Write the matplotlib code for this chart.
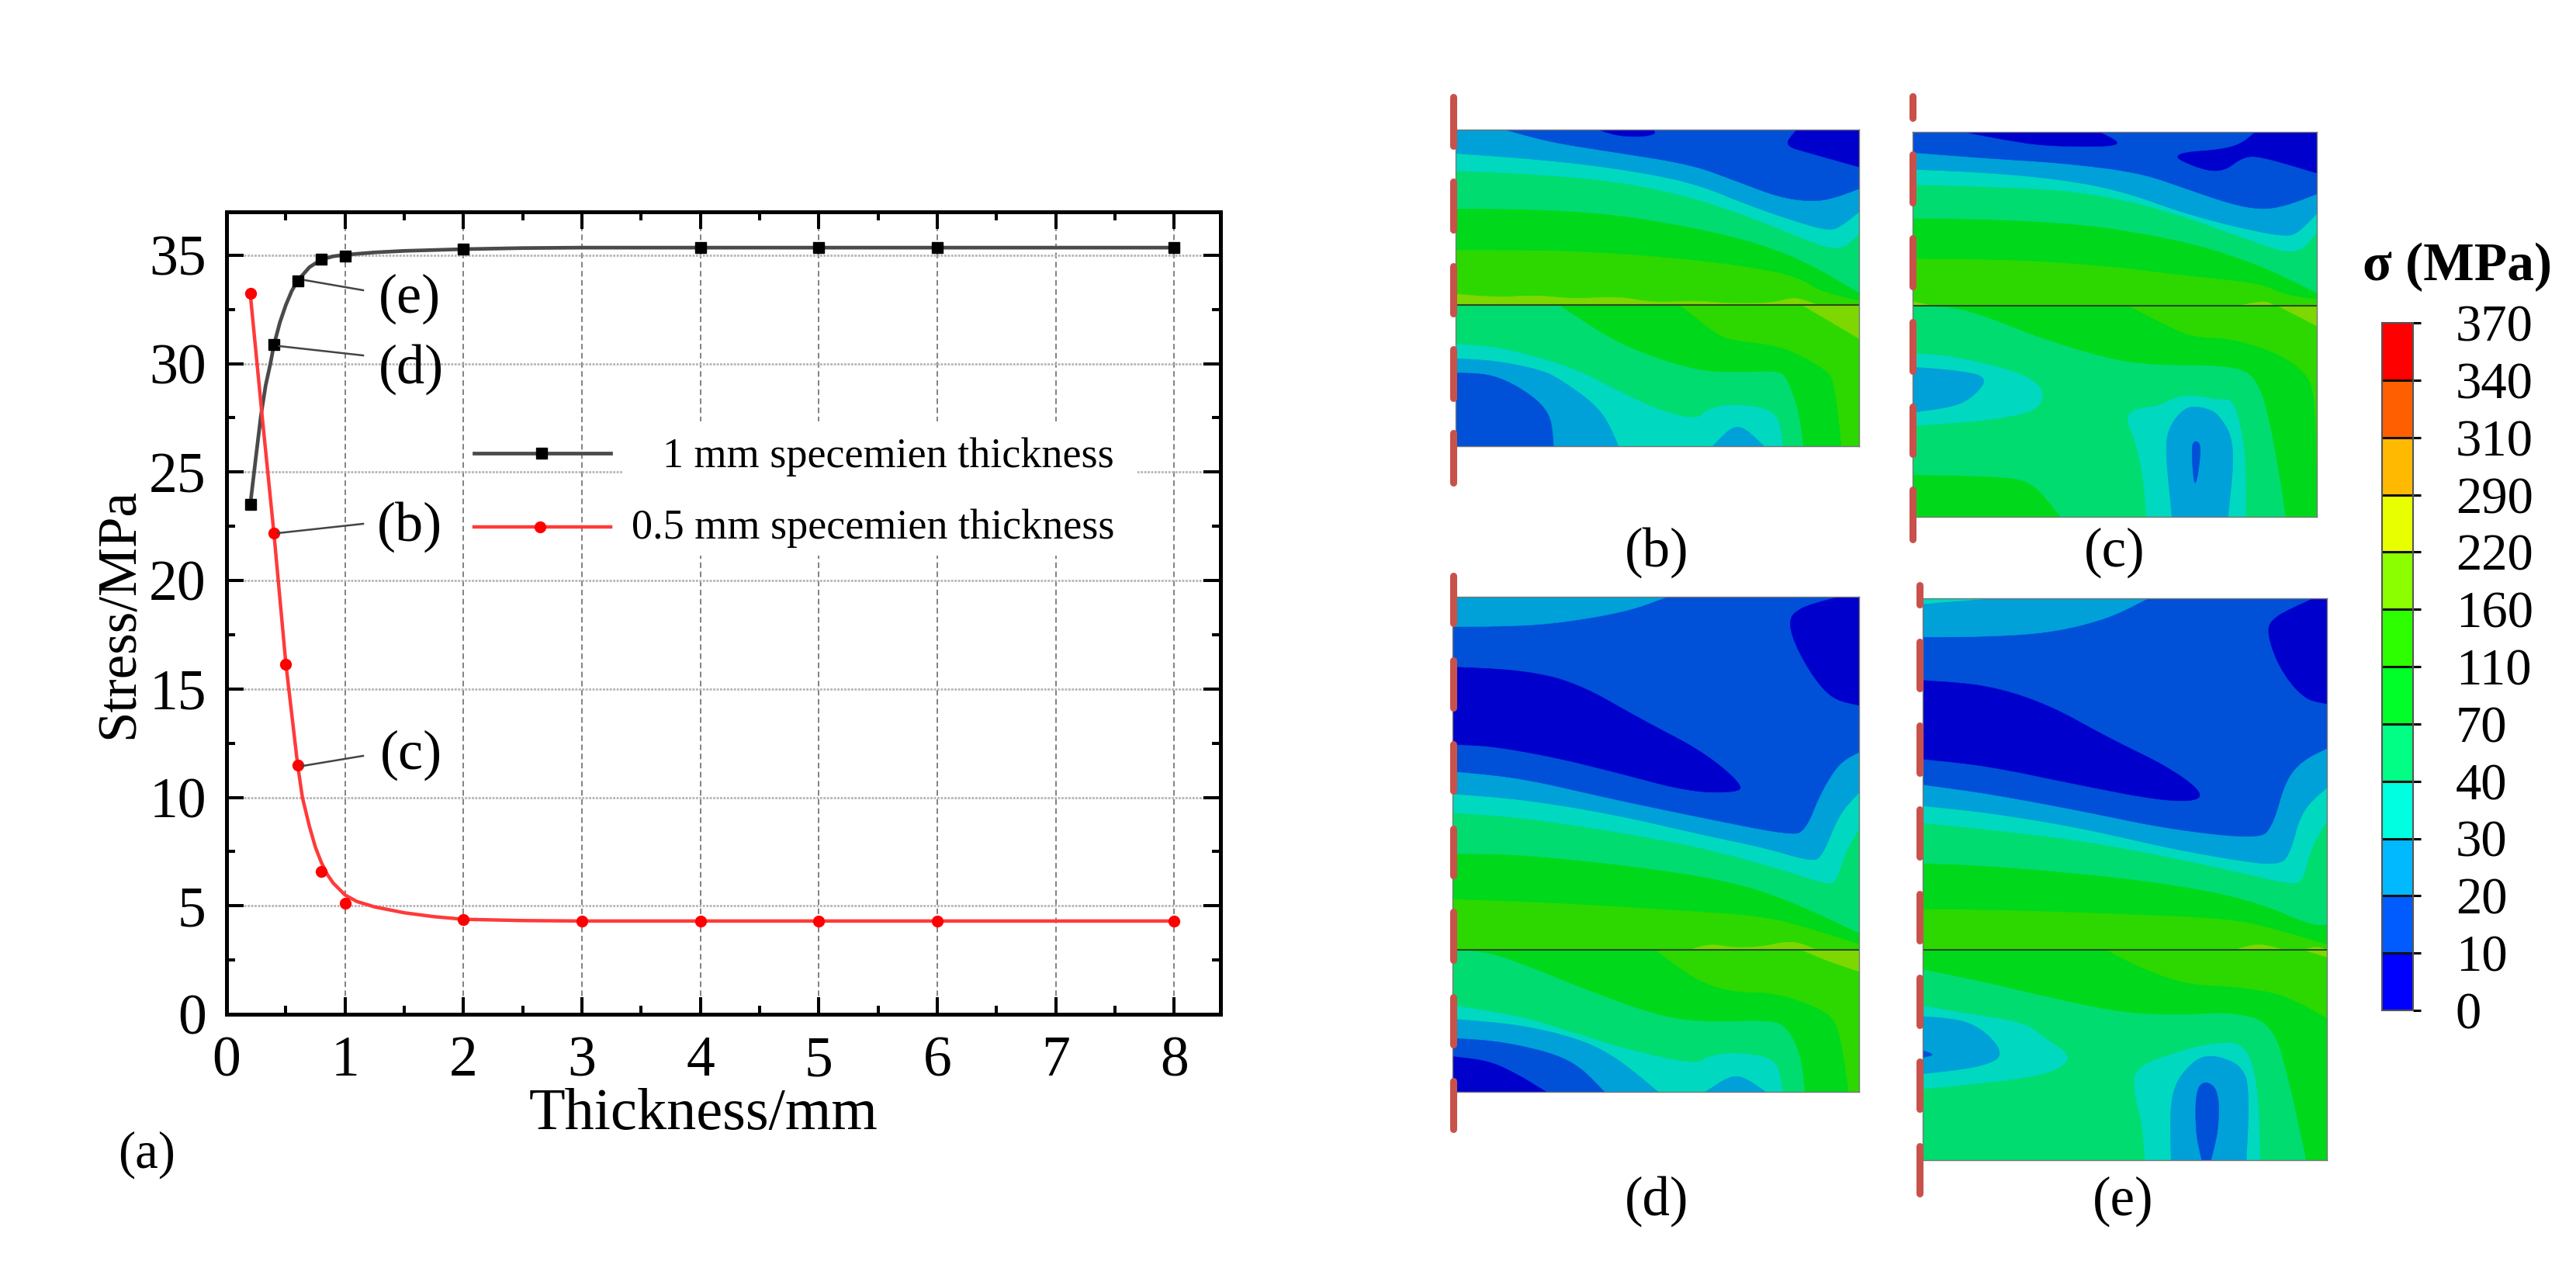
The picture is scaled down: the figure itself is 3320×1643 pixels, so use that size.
import matplotlib
matplotlib.use('Agg')
import matplotlib.pyplot as plt
from matplotlib.colors import ListedColormap, BoundaryNorm
from matplotlib.cm import ScalarMappable
from matplotlib.patches import Polygon, Rectangle
from matplotlib.ticker import MultipleLocator

plt.rcParams['font.family'] = ['Liberation Serif', 'DejaVu Serif']

# --- stress vs thickness ---
thick_1mm = [0.2, 0.4, 0.6, 0.8, 1, 2, 4, 5, 6, 8]
stress_1mm = [23.5, 30.87, 33.83, 34.8, 34.95, 35.27, 35.35, 35.35, 35.35, 35.35]
thick_05mm = [0.2, 0.4, 0.5, 0.6, 0.8, 1, 2, 3, 4, 5, 6, 8]
stress_05mm = [33.23, 22.17, 16.15, 11.5, 6.57, 5.1, 4.36, 4.3, 4.3, 4.3, 4.3, 4.3]
# fitted curves as they run through the picture
fit_x_1mm = [0.2, 0.25, 0.29, 0.33, 0.37, 0.4, 0.45, 0.5, 0.55, 0.6, 0.7, 0.8, 0.9, 1, 1.25, 1.5, 2, 2.5, 3, 4, 8]
fit_y_1mm = [23.5, 25.8, 27.6, 29.0, 30.0, 30.87, 31.9, 32.7, 33.35, 33.83, 34.45, 34.8, 34.95, 35.02, 35.13, 35.2, 35.28, 35.33, 35.35, 35.35, 35.35]
fit_x_05mm = [0.2, 0.3, 0.4, 0.5, 0.6, 0.64, 0.7, 0.75, 0.8, 0.85, 0.9, 1, 1.1, 1.25, 1.5, 1.75, 2, 2.5, 3, 4, 8]
fit_y_05mm = [33.23, 27.6, 22.17, 16.2, 11.5, 10.0, 8.65, 7.7, 7.0, 6.45, 6.05, 5.5, 5.2, 4.95, 4.68, 4.5, 4.38, 4.32, 4.3, 4.3, 4.3]

# --- contour bands, colours from low stress to high ---
band_colors = ['#0000cc', '#0050d8', '#00a0d8', '#00d8c0', '#00dc70', '#00d81c', '#2cd800', '#7cd800']

# each panel: rect (x0, x1, y0, y1), mid line y, then polygons painted in order (colour index, outline)
rect_b = (90, 1408, 165, 1165)
mid_b = 718
bands_b = [
    (6, [(90, 165), (1408, 165), (1408, 718), (90, 718)]),
    (7, [(90, 685), (230, 695), (350, 688), (480, 700), (620, 692), (740, 712), (860, 705), (1000, 715), (1130, 712), (1200, 693), (1270, 718), (90, 718)]),
    (5, [(90, 545), (400, 545), (700, 560), (1000, 590), (1200, 625), (1280, 675), (1408, 705), (1408, 165), (90, 165)]),
    (4, [(90, 415), (300, 415), (600, 430), (900, 480), (1100, 530), (1250, 590), (1408, 680), (1408, 165), (90, 165)]),
    (3, [(90, 295), (300, 303), (600, 325), (850, 375), (1050, 440), (1200, 500), (1345, 552), (1408, 495), (1408, 165), (90, 165)]),
    (2, [(90, 240), (350, 258), (600, 285), (860, 330), (1050, 405), (1200, 455), (1310, 485), (1350, 470), (1408, 425), (1408, 165), (90, 165)]),
    (1, [(250, 165), (400, 205), (600, 235), (860, 275), (1000, 325), (1150, 380), (1260, 393), (1330, 380), (1408, 352), (1408, 165)]),
    (0, [(1205, 165), (1160, 215), (1250, 240), (1408, 283), (1408, 165)]),
    (0, [(555, 165), (620, 185), (700, 188), (745, 178), (735, 165)]),
    (6, [(90, 718), (1408, 718), (1408, 1165), (90, 1165)]),
    (7, [(1220, 718), (1408, 825), (1408, 718)]),
    (5, [(90, 718), (820, 718), (900, 780), (970, 830), (1130, 845), (1220, 880), (1290, 920), (1325, 950), (1350, 1165), (90, 1165)]),
    (4, [(90, 718), (425, 718), (600, 830), (750, 890), (900, 930), (1030, 932), (1140, 928), (1170, 945), (1210, 1050), (1225, 1165), (90, 1165)]),
    (3, [(90, 843), (220, 850), (400, 895), (500, 930), (620, 990), (750, 1050), (875, 1082), (910, 1050), (990, 1030), (1145, 1052), (1158, 1165), (90, 1165)]),
    (2, [(90, 888), (220, 895), (350, 920), (420, 945), (570, 1050), (622, 1165), (90, 1165)]),
    (2, [(930, 1165), (1010, 1085), (1098, 1165)]),
    (1, [(90, 933), (230, 938), (400, 1045), (410, 1165), (90, 1165)]),
]

rect_c = (62, 1380, 172, 1388)
mid_c = 720
bands_c = [
    (6, [(62, 172), (1380, 172), (1380, 720), (62, 720)]),
    (7, [(62, 708), (120, 720), (62, 720)]),
    (7, [(1130, 720), (1210, 705), (1240, 720)]),
    (5, [(62, 572), (400, 575), (700, 595), (950, 625), (1200, 650), (1270, 685), (1380, 700), (1380, 172), (62, 172)]),
    (4, [(62, 445), (300, 447), (600, 462), (800, 490), (1000, 530), (1200, 595), (1380, 680), (1380, 172), (62, 172)]),
    (3, [(62, 338), (300, 345), (550, 355), (750, 385), (950, 440), (1150, 510), (1315, 565), (1380, 490), (1380, 172), (62, 172)]),
    (2, [(62, 290), (300, 300), (550, 322), (750, 360), (950, 430), (1150, 480), (1280, 503), (1320, 490), (1380, 430), (1380, 172), (62, 172)]),
    (1, [(62, 237), (300, 255), (550, 270), (800, 300), (950, 350), (1100, 400), (1200, 418), (1280, 405), (1380, 368), (1380, 172), (62, 172)]),
    (0, [(230, 172), (350, 195), (500, 218), (765, 218), (670, 172)]),
    (0, [(1180, 172), (1115, 225), (890, 240), (1000, 290), (1075, 298), (1140, 250), (1200, 250), (1380, 302), (1380, 172)]),
    (6, [(62, 720), (1380, 720), (1380, 1388), (62, 1388)]),
    (7, [(1250, 720), (1380, 785), (1380, 720)]),
    (5, [(62, 720), (760, 720), (900, 790), (980, 822), (1100, 825), (1250, 870), (1340, 930), (1375, 1000), (1380, 1388), (62, 1388)]),
    (4, [(62, 720), (200, 725), (340, 770), (480, 825), (720, 895), (870, 910), (1100, 910), (1190, 950), (1240, 1150), (1278, 1388), (545, 1388), (455, 1278), (350, 1260), (62, 1255)]),
    (3, [(62, 872), (200, 880), (480, 950), (490, 1050), (300, 1085), (62, 1100)]),
    (3, [(755, 1075), (790, 1045), (860, 1040), (920, 1010), (980, 1003), (1060, 1020), (1110, 1015), (1148, 1180), (1148, 1388), (825, 1388), (815, 1270), (790, 1150)]),
    (2, [(62, 915), (200, 925), (310, 945), (265, 1005), (200, 1040), (62, 1058)]),
    (2, [(885, 1170), (900, 1100), (950, 1042), (1000, 1040), (1060, 1060), (1115, 1160), (1090, 1388), (908, 1388)]),
    (1, [(985, 1145), (970, 1165), (982, 1318), (1005, 1165)]),
]

rect_d = (80, 1405, 90, 1253)
mid_d = 920
bands_d = [
    (6, [(80, 90), (1405, 90), (1405, 920), (80, 920)]),
    (7, [(850, 920), (920, 905), (1000, 915), (1090, 912), (1190, 897), (1270, 920)]),
    (5, [(80, 800), (400, 808), (800, 825), (1100, 840), (1250, 870), (1405, 905), (1405, 90), (80, 90)]),
    (4, [(80, 693), (300, 695), (700, 725), (1000, 760), (1200, 810), (1405, 880), (1405, 90), (80, 90)]),
    (3, [(80, 597), (300, 608), (600, 640), (900, 680), (1150, 730), (1300, 765), (1330, 760), (1360, 690), (1405, 635), (1405, 90), (80, 90)]),
    (2, [(80, 553), (300, 565), (600, 600), (900, 650), (1100, 680), (1250, 712), (1285, 700), (1340, 600), (1405, 550), (1405, 90), (80, 90)]),
    (1, [(80, 500), (300, 515), (600, 565), (900, 610), (1180, 650), (1230, 640), (1280, 550), (1340, 480), (1405, 455), (1405, 90), (80, 90)]),
    (0, [(80, 255), (300, 262), (480, 290), (700, 380), (900, 455), (1030, 535), (1000, 550), (850, 548), (600, 500), (400, 465), (200, 440), (80, 437)]),
    (2, [(80, 90), (780, 90), (650, 125), (400, 155), (200, 160), (80, 160)]),
    (0, [(1340, 90), (1210, 115), (1170, 150), (1220, 240), (1310, 330), (1405, 345), (1405, 90)]),
    (6, [(80, 920), (1405, 920), (1405, 1253), (80, 1253)]),
    (7, [(1220, 920), (1405, 920), (1405, 970), (1300, 945)]),
    (5, [(80, 920), (740, 920), (880, 995), (1000, 1020), (1130, 1020), (1290, 1060), (1340, 1100), (1370, 1253), (80, 1253)]),
    (4, [(80, 920), (200, 925), (350, 965), (520, 1015), (750, 1075), (900, 1090), (1100, 1085), (1165, 1095), (1215, 1165), (1228, 1253), (80, 1253)]),
    (3, [(80, 1050), (300, 1075), (480, 1115), (630, 1150), (870, 1190), (910, 1170), (1000, 1160), (1140, 1175), (1155, 1253), (80, 1253)]),
    (2, [(80, 1082), (300, 1095), (500, 1130), (620, 1175), (750, 1253), (80, 1253)]),
    (2, [(905, 1253), (1005, 1205), (1100, 1253)]),
    (1, [(80, 1127), (250, 1135), (470, 1175), (575, 1253), (80, 1253)]),
    (0, [(80, 1170), (200, 1180), (300, 1215), (385, 1253), (80, 1253)]),
]

rect_e = (95, 1413, 92, 1413)
mid_e = 918
bands_e = [
    (6, [(95, 92), (1413, 92), (1413, 918), (95, 918)]),
    (7, [(1115, 918), (1190, 903), (1270, 918)]),
    (7, [(1340, 918), (1380, 910), (1413, 918)]),
    (5, [(95, 822), (400, 825), (800, 835), (1100, 845), (1250, 870), (1413, 905), (1413, 92), (95, 92)]),
    (4, [(95, 715), (300, 720), (700, 745), (1000, 775), (1200, 810), (1360, 860), (1413, 860), (1413, 92), (95, 92)]),
    (3, [(95, 620), (300, 635), (600, 660), (900, 700), (1150, 740), (1300, 765), (1335, 755), (1360, 680), (1413, 615), (1413, 92), (95, 92)]),
    (2, [(95, 580), (300, 595), (600, 630), (900, 680), (1150, 712), (1250, 718), (1290, 700), (1330, 590), (1413, 537), (1413, 92), (95, 92)]),
    (1, [(95, 530), (300, 550), (600, 590), (900, 635), (1190, 658), (1235, 630), (1280, 515), (1340, 470), (1413, 445), (1413, 92), (95, 92)]),
    (0, [(95, 285), (300, 295), (500, 340), (700, 420), (900, 490), (1010, 550), (980, 570), (850, 565), (600, 530), (300, 485), (95, 470)]),
    (2, [(95, 92), (830, 92), (700, 140), (500, 175), (250, 183), (95, 183)]),
    (3, [(95, 92), (320, 92), (95, 105)]),
    (0, [(1370, 92), (1240, 135), (1215, 170), (1260, 260), (1340, 330), (1413, 340), (1413, 92)]),
    (6, [(95, 918), (1413, 918), (1413, 1413), (95, 1413)]),
    (7, [(1340, 918), (1413, 918), (1413, 935)]),
    (5, [(95, 918), (690, 918), (800, 960), (950, 1000), (1100, 1005), (1250, 1020), (1340, 1050), (1413, 1080), (1413, 1413), (95, 1413)]),
    (4, [(95, 965), (300, 995), (500, 1030), (750, 1068), (950, 1072), (1100, 1065), (1235, 1090), (1290, 1230), (1345, 1413), (95, 1413)]),
    (3, [(95, 1050), (250, 1070), (430, 1090), (500, 1130), (580, 1168), (540, 1200), (430, 1220), (250, 1235), (95, 1245)]),
    (3, [(785, 1195), (920, 1160), (1020, 1140), (1150, 1135), (1190, 1250), (1195, 1413), (820, 1413), (810, 1320), (785, 1260)]),
    (2, [(95, 1075), (260, 1085), (370, 1165), (280, 1195), (95, 1210)]),
    (2, [(900, 1250), (980, 1175), (1050, 1165), (1145, 1195), (1160, 1270), (1150, 1413), (905, 1413)]),
    (1, [(1015, 1225), (985, 1250), (985, 1350), (1005, 1413), (1035, 1413), (1060, 1340), (1060, 1248)]),
    (1, [(95, 1155), (135, 1165), (95, 1172)]),
]

# --- colour scale ---
scale_levels = [0, 10, 20, 30, 40, 70, 110, 160, 220, 290, 310, 340, 370]
scale_colors = ['#0000ff', '#005cff', '#00b9ff', '#00ffe0', '#00ff84', '#00ff28',
                '#2eff00', '#8bff00', '#e8ff00', '#ffb900', '#ff5f00', '#ff0000']

W, H = 3320, 1643
fig = plt.figure(figsize=(W / 100, H / 100), dpi=100)


def axes_px(x0, x1, y0, y1):
    return fig.add_axes([x0 / W, 1 - y1 / H, (x1 - x0) / W, (y1 - y0) / H])


def round_outline(outline, rect, mid, passes=3):
    # corner cutting, vertices on the panel edges or mid line stay where they are
    x0, x1, y0, y1 = rect
    pts = list(outline)
    for _ in range(passes):
        new = []
        n = len(pts)
        for i, p in enumerate(pts):
            if p[0] in (x0, x1) or p[1] in (y0, y1, mid):
                new.append(p)
                continue
            a = pts[i - 1]
            b = pts[(i + 1) % n]
            new.append((p[0] + 0.25 * (a[0] - p[0]), p[1] + 0.25 * (a[1] - p[1])))
            new.append((p[0] + 0.25 * (b[0] - p[0]), p[1] + 0.25 * (b[1] - p[1])))
        pts = new
    return pts


# chart
ax = axes_px(292, 1573, 273, 1307)
ax.set_xlim(0, 8.39)
ax.set_ylim(0, 37)
ax.plot(fit_x_1mm, fit_y_1mm, color='#4a4a4a', lw=3.4, zorder=3)
ax.plot(thick_1mm, stress_1mm, ls='none', marker='s', color='black', ms=9.5, zorder=4, label='1 mm specemien thickness')
ax.plot(fit_x_05mm, fit_y_05mm, color='#ff3a3a', lw=3.2, zorder=3)
ax.plot(thick_05mm, stress_05mm, ls='none', marker='o', color='#ff0000', ms=10, zorder=4, label='0.5 mm specemien thickness')
ax.set_xticks(range(0, 9))
ax.set_yticks(range(0, 36, 5))
ax.xaxis.set_minor_locator(MultipleLocator(0.5))
ax.yaxis.set_minor_locator(MultipleLocator(2.5))
ax.tick_params(which='major', direction='in', top=True, right=True, length=16, width=2.9, labelsize=53)
ax.tick_params(which='minor', direction='in', top=True, right=True, length=8, width=2.9)
ax.tick_params(axis='x', which='major', pad=20)
ax.tick_params(axis='y', which='major', pad=19)
ax.grid(axis='x', color='#777777', lw=1.3, ls=(0, (4, 2.5)), zorder=1)
ax.grid(axis='y', color='#b5b5b5', lw=2.0, ls=(0, (1, 0.6)), zorder=1)
ax.set_axisbelow(True)
for s in ax.spines.values():
    s.set_linewidth(3.6)
ax.set_xlabel('Thickness/mm', fontsize=55, labelpad=0, x=0.48)
ax.set_ylabel('Stress/MPa', fontsize=51, labelpad=4)

# contour panels
panels = [
    (axes_px(1876, 2396, 167, 575), rect_b, mid_b, bands_b),
    (axes_px(2465, 2986, 170, 666), rect_c, mid_c, bands_c),
    (axes_px(1872, 2396, 769, 1407), rect_d, mid_d, bands_d),
    (axes_px(2478, 2999, 771, 1495), rect_e, mid_e, bands_e),
]
for pax, rect, mid, bands in panels:
    pax.set_xlim(rect[0], rect[1])
    pax.set_ylim(rect[3], rect[2])
    for idx, outline in bands:
        pts = round_outline(outline, rect, mid)
        pax.add_patch(Polygon(pts, closed=True, fc=band_colors[idx], ec=band_colors[idx], lw=0.4))
    pax.axhline(mid, color='#2a4a20', lw=1.5)
    pax.set_xticks([])
    pax.set_yticks([])
    for s in pax.spines.values():
        s.set_linewidth(1.0)
        s.set_color('#777777')

# colour scale
cax = axes_px(3070, 3110, 416, 1302)
cmap = ListedColormap(scale_colors)
norm = BoundaryNorm(scale_levels, cmap.N)
cbar = fig.colorbar(ScalarMappable(norm=norm, cmap=cmap), cax=cax, spacing='uniform', ticks=scale_levels, drawedges=True)
cbar.dividers.set_color('#111111')
cbar.dividers.set_linewidth(2.2)
cbar.outline.set_linewidth(1.5)
cbar.outline.set_edgecolor('#555555')
cbar.ax.tick_params(length=7.5, width=2.2, labelsize=48, pad=32)
cbar.ax.minorticks_off()

# overlay in pixels for annotations
ov = fig.add_axes([0, 0, 1, 1], zorder=10)
ov.set_xlim(0, W)
ov.set_ylim(H, 0)
ov.axis('off')
ov.patch.set_alpha(0)

# legend block
ov.add_patch(Rectangle((802, 543), 664, 173, fc='white', ec='none'))
ov.plot([611, 787], [584, 584], color='#4a4a4a', lw=3.4)
ov.plot([698], [584], marker='s', color='black', ms=9.5)
ov.plot([611, 787], [679, 679], color='#ff3a3a', lw=3.2)
ov.plot([696], [679], marker='o', color='#ff0000', ms=10)
ov.text(1436, 602, ax.get_lines()[1].get_label(), fontsize=39, ha='right', va='baseline')
ov.text(1436, 694, ax.get_lines()[3].get_label(), fontsize=39, ha='right', va='baseline')

# leaders
for x0, y0, x1, y1, lab, tx, ty in [
    (393, 361, 468, 374, '(e)', 528, 385),
    (360, 446, 468, 458, '(d)', 530, 476),
    (358, 687, 468, 675, '(b)', 528, 679),
    (390, 987, 468, 974, '(c)', 530, 973),
]:
    ov.plot([x0, x1], [y0, y1], color='#444444', lw=1.8)
    ov.text(tx, ty, lab, fontsize=52, ha='center', va='center')

ov.text(189, 1488, '(a)', fontsize=48, ha='center', va='center')
for lab, tx, ty in [('(b)', 2135, 712), ('(c)', 2725, 712), ('(d)', 2135, 1548), ('(e)', 2736, 1548)]:
    ov.text(tx, ty, lab, fontsize=51, ha='center', va='center')
ov.text(3167, 344, 'σ (MPa)', fontsize=50, fontweight='bold', ha='center', va='center')

# red symmetry dashes
for x, dashes in [
    (1873, [(121, 192), (230, 300), (339, 408), (446, 517), (554, 626)]),
    (2465, [(120, 156), (195, 265), (303, 373), (411, 482), (520, 589), (627, 699)]),
    (1873, [(738, 807), (847, 916), (955, 1023), (1064, 1132), (1171, 1241), (1281, 1350), (1389, 1459)]),
    (2474, [(750, 783), (823, 891), (931, 1000), (1039, 1108), (1148, 1216), (1256, 1325), (1364, 1433), (1473, 1542)]),
]:
    for y0, y1 in dashes:
        ov.plot([x, x], [y0 + 4, y1 - 4], color='#c8524a', lw=6.5, solid_capstyle='round')

fig.savefig('out.png', dpi=100)
